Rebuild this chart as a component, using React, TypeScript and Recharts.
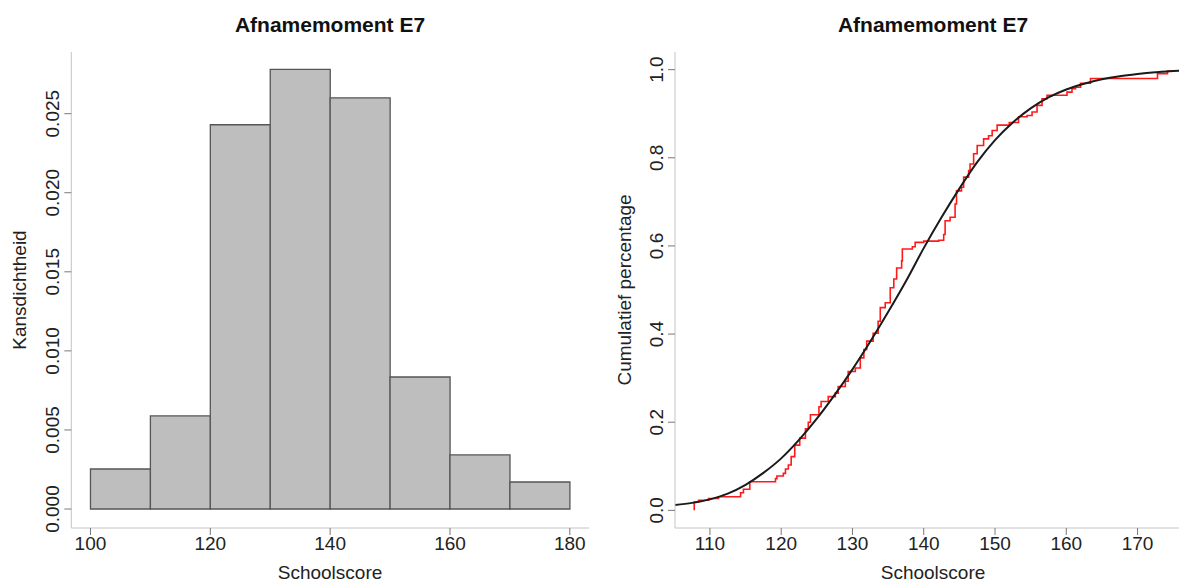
import React from 'react';
import { ComposedChart, Bar, Line, XAxis, YAxis } from 'recharts';

// histogram (left panel)
const binMids = [105, 115, 125, 135, 145, 155, 165, 175];
const densities = [0.00253, 0.00589, 0.0243, 0.0278, 0.026, 0.00835, 0.00342, 0.00171];
const histXTicks = [100, 120, 140, 160, 180];
const histYTicks = [0, 0.005, 0.01, 0.015, 0.02, 0.025];

// empirical cumulative (red steps, right panel)
const ecdfX = [
	107.8, 107.8, 108.4, 109.8, 111.2, 114.3, 114.7, 115.6, 119.2, 119.4, 120.3, 120.6, 121.0, 121.4,
	121.9, 122.6, 123.4, 123.8, 124.1, 125.3, 125.6, 126.6, 127.6, 128.0, 129.0, 129.4, 130.4, 131.1,
	131.6, 132.0, 132.9, 133.6, 133.9, 134.6, 135.3, 135.8, 136.2, 136.9, 137.0, 138.4, 138.8, 140.0,
	142.1, 142.8, 143.0, 143.7, 144.4, 144.6, 145.3, 145.6, 146.3, 146.5, 147.0, 147.5, 148.4, 149.1,
	149.6, 150.3, 152.0, 153.3, 154.5, 155.2, 155.9, 156.6, 157.3, 160.1, 160.8, 161.3, 162.0, 163.4,
	172.8, 174.2, 175.0,
];
const ecdfY = [
	0.0, 0.019, 0.023, 0.027, 0.031, 0.04, 0.048, 0.065, 0.072, 0.078, 0.084, 0.094, 0.103, 0.122,
	0.148, 0.164, 0.185, 0.2, 0.217, 0.235, 0.247, 0.258, 0.266, 0.281, 0.293, 0.315, 0.323, 0.346,
	0.365, 0.384, 0.402, 0.429, 0.46, 0.471, 0.505, 0.525, 0.55, 0.566, 0.593, 0.598, 0.608, 0.611,
	0.613, 0.626, 0.657, 0.665, 0.695, 0.725, 0.733, 0.756, 0.771, 0.786, 0.809, 0.828, 0.843, 0.85,
	0.862, 0.874, 0.88, 0.893, 0.896, 0.904, 0.919, 0.934, 0.942, 0.949, 0.957, 0.96, 0.969, 0.98,
	0.991, 0.997, 0.997,
];

// fitted cumulative curve (black)
const cdfX = [
	105.1, 107.5, 110, 112.5, 115, 117.5, 120, 122.5, 125, 127.5, 130, 132.5, 135, 137.5, 140, 142.5,
	145, 147.5, 150, 152.5, 155, 157.5, 160, 162.5, 165, 167.5, 170, 172.5, 175, 177.6,
];
const cdfY = [
	0.012, 0.017, 0.025, 0.038, 0.058, 0.085, 0.118, 0.16, 0.208, 0.262, 0.32, 0.383, 0.45, 0.52,
	0.595, 0.665, 0.73, 0.79, 0.84, 0.88, 0.912, 0.937, 0.955, 0.968, 0.978, 0.985, 0.99, 0.994,
	0.997, 0.998,
];
const cdfXTicks = [110, 120, 130, 140, 150, 160, 170];
const cdfYTicks = [0, 0.2, 0.4, 0.6, 0.8, 1.0];

const FONT = '"Liberation Sans", Arial, sans-serif';
const BOX = '#c4c4c4';
const TICK = '#7a7a7a';

function RotatedTick(props: any) {
	const { x, y, payload, digits } = props;
	return (
		<text
			x={x}
			y={y}
			transform={`rotate(-90 ${x} ${y})`}
			textAnchor='middle'
			fontSize={19}
			fontFamily={FONT}
			fill='#222'
		>
			{Number(payload.value).toFixed(digits)}
		</text>
	);
}

const xTickStyle = { fontSize: 19, fontFamily: FONT, fill: '#222' };

function Caption({ x, y, text, bold, rotate }: any) {
	return (
		<div
			style={{
				position: 'absolute',
				left: x,
				top: y,
				transform: `translate(-50%, -50%)${rotate ? ' rotate(-90deg)' : ''}`,
				whiteSpace: 'nowrap',
				fontSize: bold ? 21 : 19,
				fontWeight: bold ? 700 : 400,
				color: bold ? '#111' : '#222',
				fontFamily: FONT,
			}}
		>
			{text}
		</div>
	);
}

export default function App() {
	const histData = binMids.map((m, i) => ({ mid: m, density: densities[i] }));
	const ecdfData = ecdfX.map((x, i) => ({ x, y: ecdfY[i] }));
	const cdfData = cdfX.map((x, i) => ({ x, y: cdfY[i] }));

	return (
		<div
			style={{
				position: 'absolute',
				left: 0,
				top: 0,
				width: 1179,
				height: 583,
				overflow: 'hidden',
				background: '#fff',
				fontFamily: FONT,
			}}
		>
			<div style={{ position: 'absolute', left: 0, top: 0 }}>
				<ComposedChart
					width={600}
					height={583}
					data={histData}
					margin={{ top: 52, right: 11, bottom: 25, left: 0 }}
					barCategoryGap={0}
					barGap={0}
				>
					<XAxis
						dataKey='mid'
						type='number'
						domain={[96.8, 183.2]}
						ticks={histXTicks}
						interval={0}
						height={30}
						tickSize={7}
						tickMargin={2}
						stroke={TICK}
						axisLine={{ stroke: BOX }}
						tick={xTickStyle}
					/>
					<YAxis
						type='number'
						domain={[-0.0012, 0.0289]}
						ticks={histYTicks}
						interval={0}
						width={71.3}
						tickSize={7}
						tickMargin={5}
						stroke={TICK}
						axisLine={{ stroke: BOX }}
						tick={<RotatedTick digits={3} />}
					/>
					<XAxis xAxisId='top' orientation='top' height={0} tick={false} tickLine={false} axisLine={{ stroke: BOX }} />
					<YAxis yAxisId='right' orientation='right' width={0} tick={false} tickLine={false} axisLine={{ stroke: BOX }} />
					<Bar dataKey='density' fill='#bebebe' stroke='#555' strokeWidth={1.3} isAnimationActive={false} />
				</ComposedChart>
			</div>

			<div style={{ position: 'absolute', left: 600, top: 0 }}>
				<ComposedChart width={620} height={583} margin={{ top: 52, right: 29, bottom: 25, left: 0 }}>
					<XAxis
						dataKey='x'
						type='number'
						domain={[105.1, 177.5]}
						allowDataOverflow
						ticks={cdfXTicks}
						interval={0}
						height={30}
						tickSize={7}
						tickMargin={2}
						stroke={TICK}
						axisLine={{ stroke: BOX }}
						tick={xTickStyle}
					/>
					<YAxis
						type='number'
						domain={[-0.04, 1.04]}
						ticks={cdfYTicks}
						interval={0}
						width={75}
						tickSize={7}
						tickMargin={5}
						stroke={TICK}
						axisLine={{ stroke: BOX }}
						tick={<RotatedTick digits={1} />}
					/>
					<XAxis xAxisId='top' orientation='top' height={0} tick={false} tickLine={false} axisLine={{ stroke: BOX }} />
					<Line
						data={ecdfData}
						dataKey='y'
						type='stepAfter'
						stroke='#ff1a1a'
						strokeWidth={1.6}
						dot={false}
						isAnimationActive={false}
					/>
					<Line
						data={cdfData}
						dataKey='y'
						type='monotone'
						stroke='#1a1a1a'
						strokeWidth={2}
						dot={false}
						isAnimationActive={false}
					/>
				</ComposedChart>
			</div>

			<Caption x={330} y={25} text='Afnamemoment E7' bold />
			<Caption x={933} y={25} text='Afnamemoment E7' bold />
			<Caption x={330} y={573} text='Schoolscore' />
			<Caption x={933} y={573} text='Schoolscore' />
			<Caption x={20} y={290} text='Kansdichtheid' rotate />
			<Caption x={625} y={290} text='Cumulatief percentage' rotate />
		</div>
	);
}
